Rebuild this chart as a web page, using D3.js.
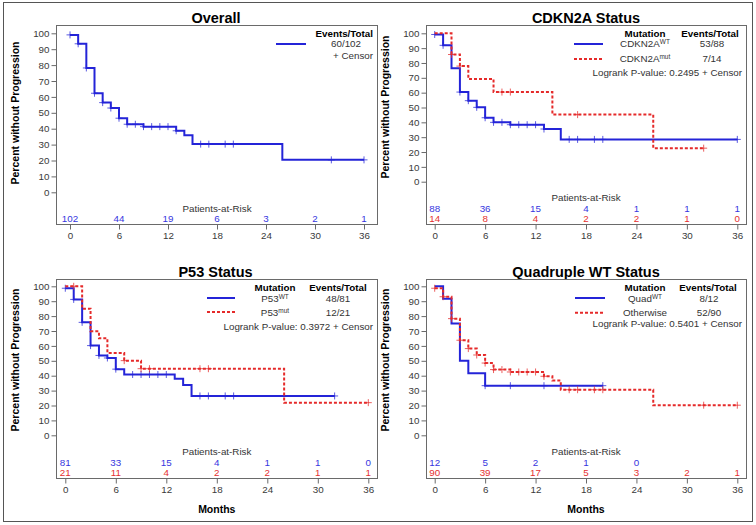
<!DOCTYPE html>
<html><head><meta charset="utf-8">
<script src="https://cdn.jsdelivr.net/npm/d3@7"></script>
<style>
html,body{margin:0;padding:0;background:#fff;}
svg{display:block;}
text{font-family:"Liberation Sans",Arial,sans-serif;}
</style></head>
<body>
<svg id="c" width="756" height="525"></svg>
<script>
// ---------------- DATA ----------------
const monthTicks = [0, 6, 12, 18, 24, 30, 36];
const pctTicks = [0, 10, 20, 30, 40, 50, 60, 70, 80, 90, 100];

// Overall
const overallTimes  = [0, 1, 2, 3, 4, 5, 6, 7, 9, 13, 14, 15, 26, 36];
const overallSurv   = [99, 93.4, 78.2, 62.3, 56.4, 53, 46.6, 42.8, 41.3, 38.7, 35.9, 30.3, 20.4, 20.4];
const overallCensor = [0, 1, 2, 3, 4, 5, 6, 7, 8, 9, 10, 11, 12, 13, 16, 17, 19, 20, 32, 36];
const overallRisk   = [102, 44, 19, 6, 3, 2, 1];

// CDKN2A
const cdknWtTimes  = [0, 1, 2, 3, 4, 5, 6, 7, 9, 13, 15, 36];
const cdknWtSurv   = [99.2, 91.9, 76.4, 60.4, 54.6, 50.1, 43.1, 40, 38.4, 35.5, 28.5, 28.5];
const cdknWtCensor = [0, 1, 3, 4, 5, 6, 7, 8, 9, 10, 11, 12, 13, 16, 17, 19, 20, 36];
const cdknMutTimes  = [0, 2, 3, 4, 7, 14, 26, 32];
const cdknMutSurv   = [100, 85.7, 77.9, 69.2, 60.4, 45.2, 22.6, 22.6];
const cdknMutCensor = [2, 3, 8, 9, 17, 32];
const cdknWtRisk  = [88, 36, 15, 4, 1, 1, 1];
const cdknMutRisk = [14, 8, 4, 2, 2, 1, 0];

// P53
const p53WtTimes  = [0, 1, 2, 3, 4, 5, 6, 7, 13, 14, 15, 32];
const p53WtSurv   = [98.7, 91.2, 75.8, 60.2, 53.6, 51.9, 44.4, 40.8, 38, 33.8, 26.4, 26.4];
const p53WtCensor = [0, 1, 2, 3, 4, 5, 6, 8, 9, 10, 11, 12, 16, 17, 19, 20, 32];
const p53MutTimes  = [0, 2, 3, 4, 5, 7, 9, 26, 36];
const p53MutSurv   = [100, 85, 69.8, 65.1, 55.3, 50.1, 44.7, 21.9, 21.9];
const p53MutCensor = [1, 7, 9, 10, 16, 17, 36];
const p53WtRisk  = [81, 33, 15, 4, 1, 1, 0];
const p53MutRisk = [21, 11, 4, 2, 2, 1, 1];

// Quadruple WT
const quadWtTimes  = [0, 1, 2, 3, 4, 6, 20];
const quadWtSurv   = [100, 91.7, 75, 50, 41.7, 33.3, 33.3];
const quadWtCensor = [6, 9, 13, 20];
const quadOthTimes  = [0, 1, 2, 3, 4, 5, 6, 7, 9, 13, 14, 15, 26, 36];
const quadOthSurv   = [98.7, 93, 78.3, 63.8, 58.2, 53.9, 48.5, 44.1, 42.5, 39.6, 36.7, 30.6, 20.2, 20.2];
const quadOthCensor = [0, 1, 2, 3, 4, 5, 6, 7, 8, 9, 10, 11, 12, 13, 16, 17, 19, 20, 32, 36];
const quadWtRisk  = [12, 5, 2, 1, 0];
const quadOthRisk = [90, 39, 17, 5, 3, 2, 1];

// ---------------- STYLE / LAYOUT ----------------
const BLUE = "#2424d8", RED = "#e52a2a", BLUE_T = "#3636e0", RED_T = "#e53030";
const AXIS = "#6a6a6a", TICKTXT = "#3a3a3a";

const svg = d3.select("#c");
svg.append("rect").attr("x", 3.5).attr("y", 2.5).attr("width", 749).attr("height", 519)
  .attr("fill", "none").attr("stroke", "#555");

function stepLine(times, surv, x, y) {
  let d = "";
  for (let i = 0; i < times.length; i++) {
    const px = x(times[i]), py = y(surv[i]);
    if (i === 0) d += `M${px},${py}`;
    else d += `H${px}V${py}`;
  }
  return d;
}
function survAt(times, surv, t) {
  let v = surv[0];
  for (let i = 0; i < times.length; i++) if (times[i] <= t) v = surv[i];
  return v;
}

function panel(cfg) {
  const g = svg.append("g");
  const x = d3.scaleLinear().domain([0, 36]).range([cfg.x0, cfg.x36]);
  const y = d3.scaleLinear().domain([0, 100]).range([cfg.y0, cfg.y100]);

  g.append("text").attr("x", (cfg.left + cfg.right) / 2 + cfg.titleDx).attr("y", cfg.titleY)
    .attr("text-anchor", "middle").style("font-weight", "bold").style("font-size", "14.5px")
    .attr("fill", "#000").text(cfg.title);

  g.append("text").attr("transform", `translate(${cfg.ylabX},${cfg.ylabY}) rotate(-90)`)
    .attr("text-anchor", "middle").style("font-weight", "bold").style("font-size", "10.5px")
    .attr("fill", "#000").text("Percent without Progression");

  g.append("rect").attr("x", cfg.left + 0.5).attr("y", cfg.top + 0.5)
    .attr("width", cfg.right - cfg.left).attr("height", cfg.bottom - cfg.top)
    .attr("fill", "none").attr("stroke", AXIS).attr("stroke-width", 1);

  const ya = g.append("g").attr("transform", `translate(${cfg.left + 0.5},0)`)
    .call(d3.axisLeft(y).tickValues(pctTicks).tickSize(5).tickPadding(2));
  ya.select(".domain").remove();
  ya.selectAll("line").attr("stroke", AXIS);
  ya.selectAll("text").attr("fill", TICKTXT).style("font-size", "9.8px")
    .style("font-family", '"Liberation Sans",Arial,sans-serif');

  const xa = g.append("g").attr("transform", `translate(0,${cfg.bottom + 0.5})`)
    .call(d3.axisBottom(x).tickValues(monthTicks).tickSize(5).tickPadding(3));
  xa.select(".domain").remove();
  xa.selectAll("line").attr("stroke", AXIS);
  xa.selectAll("text").attr("fill", TICKTXT).style("font-size", "9.8px")
    .style("font-family", '"Liberation Sans",Arial,sans-serif');

  if (cfg.months) {
    g.append("text").attr("x", x(18)).attr("y", cfg.bottom + 35)
      .attr("text-anchor", "middle").style("font-weight", "bold").style("font-size", "10.5px")
      .attr("fill", "#000").text("Months");
  }

  g.append("text").attr("x", x(18)).attr("y", cfg.parY).attr("text-anchor", "middle")
    .style("font-size", "9.8px").attr("fill", "#333").text("Patients-at-Risk");
  cfg.risk.forEach(r => {
    g.selectAll(null).data(r.vals).enter().append("text")
      .attr("x", (d, i) => x(monthTicks[i])).attr("y", r.y)
      .attr("text-anchor", "middle").style("font-size", "9.8px")
      .attr("fill", r.color).text(d => d);
  });

  cfg.series.forEach(s => {
    g.append("path").attr("d", stepLine(s.times, s.surv, x, y))
      .attr("fill", "none").attr("stroke", s.color).attr("stroke-width", 2)
      .attr("stroke-dasharray", s.dash ? "3,2" : null);
    const cg = g.append("g");
    s.censor.forEach(t => {
      const cx = x(t), cy = y(survAt(s.times, s.surv, t));
      cg.append("line").attr("x1", cx).attr("x2", cx).attr("y1", cy - 3.5).attr("y2", cy + 3.5)
        .attr("stroke", s.color).attr("stroke-width", 1).attr("opacity", 0.75);
      cg.append("line").attr("x1", cx - 3.5).attr("x2", cx + 3.5).attr("y1", cy).attr("y2", cy)
        .attr("stroke", s.color).attr("stroke-width", 1).attr("opacity", 0.75);
    });
  });

  const L = cfg.legend;
  const lg = g.append("g");
  const bold = (tx, xx, yy, anchor) => lg.append("text").attr("x", xx).attr("y", yy)
    .attr("text-anchor", anchor).style("font-weight", "bold").style("font-size", "9.8px")
    .attr("fill", "#000").text(tx);
  const norm = (xx, yy, anchor) => lg.append("text").attr("x", xx).attr("y", yy)
    .attr("text-anchor", anchor).style("font-size", "9.8px").attr("fill", "#333");
  if (L.mutX !== undefined) bold("Mutation", L.mutX, L.headY, "middle");
  bold("Events/Total", L.evX, L.headY, L.evAnchor || "middle");
  L.items.forEach(it => {
    lg.append("line").attr("x1", L.lineX1).attr("x2", L.lineX2).attr("y1", it.ly).attr("y2", it.ly)
      .attr("stroke", it.color).attr("stroke-width", 2)
      .attr("stroke-dasharray", it.dash ? "3,2" : null);
    if (it.name) {
      const t = norm(L.mutX, it.ty, "middle");
      t.append("tspan").text(it.name);
      if (it.sup) t.append("tspan").attr("dy", -3.5).style("font-size", "6.5px").text(it.sup);
    }
    norm(L.evNumX, it.ty, "middle").text(it.ev);
  });
  if (L.logrank) {
    norm(L.logX, L.logY, "end").text(L.logrank + " + Censor");
  } else {
    norm(L.logX, L.logY, "end").text("+ Censor");
  }
}

panel({
  title: "Overall", titleDx: -0.5, titleY: 22.5,
  left: 56, right: 377, top: 25, bottom: 224, x0: 70, x36: 364, y0: 192.3, y100: 33.3,
  ylabX: 19, ylabY: 113, parY: 211.5,
  risk: [{ vals: overallRisk, y: 222.3, color: BLUE_T }],
  series: [{ times: overallTimes, surv: overallSurv, censor: overallCensor, color: BLUE }],
  legend: { evX: 373, evAnchor: "end", headY: 37.3, lineX1: 276, lineX2: 306, evNumX: 346,
    items: [{ ly: 44, ty: 47.3, color: BLUE, ev: "60/102" }], logX: 373, logY: 58.5 }
});

panel({
  title: "CDKN2A Status", titleDx: 0, titleY: 22.5,
  left: 426, right: 746, top: 25, bottom: 224, x0: 434.7, x36: 737.3, y0: 181.7, y100: 33.3,
  ylabX: 389, ylabY: 107, parY: 200.5,
  risk: [{ vals: cdknWtRisk, y: 211.7, color: BLUE_T }, { vals: cdknMutRisk, y: 222.3, color: RED_T }],
  series: [
    { times: cdknWtTimes, surv: cdknWtSurv, censor: cdknWtCensor, color: BLUE },
    { times: cdknMutTimes, surv: cdknMutSurv, censor: cdknMutCensor, color: RED, dash: true }],
  legend: { mutX: 645, evX: 710, headY: 37.3, lineX1: 574, lineX2: 603, evNumX: 712,
    items: [{ ly: 44, ty: 47.3, color: BLUE, name: "CDKN2A", sup: "WT", ev: "53/88" },
            { ly: 59, ty: 62.3, color: RED, dash: true, name: "CDKN2A", sup: "mut", ev: "7/14" }],
    logrank: "Logrank P-value: 0.2495", logX: 742, logY: 76 }
});

panel({
  title: "P53 Status", titleDx: -1, titleY: 276.5, months: true,
  left: 56, right: 377, top: 279, bottom: 478, x0: 65.3, x36: 368.3, y0: 435.3, y100: 286.3,
  ylabX: 19, ylabY: 360, parY: 454.5,
  risk: [{ vals: p53WtRisk, y: 465.7, color: BLUE_T }, { vals: p53MutRisk, y: 476.2, color: RED_T }],
  series: [
    { times: p53WtTimes, surv: p53WtSurv, censor: p53WtCensor, color: BLUE },
    { times: p53MutTimes, surv: p53MutSurv, censor: p53MutCensor, color: RED, dash: true }],
  legend: { mutX: 275, evX: 338, headY: 291.3, lineX1: 207, lineX2: 235, evNumX: 338,
    items: [{ ly: 298, ty: 302, color: BLUE, name: "P53", sup: "WT", ev: "48/81" },
            { ly: 312, ty: 316, color: RED, dash: true, name: "P53", sup: "mut", ev: "12/21" }],
    logrank: "Logrank P-value: 0.3972", logX: 373, logY: 329.5 }
});

panel({
  title: "Quadruple WT Status", titleDx: 0, titleY: 276.5, months: true,
  left: 426, right: 746, top: 279, bottom: 478, x0: 434.7, x36: 737.3, y0: 435.3, y100: 286.3,
  ylabX: 389, ylabY: 360, parY: 454.5,
  risk: [{ vals: quadWtRisk, y: 465.7, color: BLUE_T }, { vals: quadOthRisk, y: 476.2, color: RED_T }],
  series: [
    { times: quadWtTimes, surv: quadWtSurv, censor: quadWtCensor, color: BLUE },
    { times: quadOthTimes, surv: quadOthSurv, censor: quadOthCensor, color: RED, dash: true }],
  legend: { mutX: 645, evX: 708, headY: 291.3, lineX1: 575, lineX2: 605, evNumX: 709,
    items: [{ ly: 298, ty: 302, color: BLUE, name: "Quad", sup: "WT", ev: "8/12" },
            { ly: 312.7, ty: 316, color: RED, dash: true, name: "Otherwise", ev: "52/90" }],
    logrank: "Logrank P-value: 0.5401", logX: 742, logY: 327 }
});
</script>
</body></html>
